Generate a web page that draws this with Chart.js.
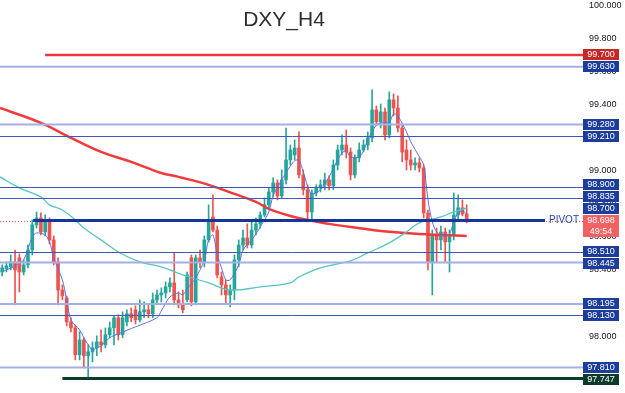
<!DOCTYPE html>
<html>
<head>
<meta charset="utf-8">
<script src="https://cdn.jsdelivr.net/npm/chart.js@4.4.1/dist/chart.umd.min.js"></script>
<style>
  html, body { margin: 0; padding: 0; background: #fff; }
  #wrap { width: 625px; height: 393px; position: relative; }
</style>
</head>
<body>
<div id="wrap"><canvas id="dxy"></canvas></div>
<script>
// DXY H4 candles
const opens = [98.388, 98.407, 98.419, 98.449, 98.473, 98.388, 98.431, 98.521, 98.673, 98.715,
  98.630, 98.691, 98.582, 98.449, 98.279, 98.231, 98.086, 98.050, 97.887, 97.977,
  97.881, 97.905, 97.929, 97.965, 97.947, 98.008, 98.050, 98.111, 98.008, 98.086,
  98.135, 98.159, 98.098, 98.147, 98.159, 98.135, 98.219, 98.249, 98.261, 98.298,
  98.322, 98.219, 98.189, 98.219, 98.473, 98.207, 98.473, 98.449, 98.582, 98.721,
  98.642, 98.358, 98.310, 98.249, 98.279, 98.461, 98.551, 98.594, 98.551, 98.642,
  98.679, 98.733, 98.794, 98.872, 98.927, 98.848, 98.945, 99.066, 99.096, 99.138,
  98.975, 98.885, 98.751, 98.866, 98.897, 98.915, 98.945, 98.909, 99.035, 99.126,
  99.156, 99.114, 98.975, 99.078, 99.126, 99.156, 99.199, 99.368, 99.296, 99.356,
  99.217, 99.429, 99.380, 99.259, 99.126, 99.066, 99.035, 99.048, 99.017, 98.745,
  98.449, 98.612, 98.582, 98.630, 98.570, 98.612, 98.733, 98.776, 98.739];
const highs = [98.431, 98.449, 98.491, 98.521, 98.497, 98.461, 98.551, 98.703, 98.751, 98.745,
  98.733, 98.715, 98.606, 98.473, 98.310, 98.243, 98.111, 98.068, 98.026, 97.990,
  97.947, 97.965, 98.002, 98.038, 98.050, 98.086, 98.123, 98.129, 98.147, 98.159,
  98.171, 98.183, 98.219, 98.207, 98.189, 98.261, 98.279, 98.292, 98.328, 98.352,
  98.503, 98.267, 98.279, 98.388, 98.491, 98.491, 98.521, 98.606, 98.794, 98.854,
  98.666, 98.388, 98.340, 98.310, 98.491, 98.582, 98.642, 98.679, 98.691, 98.715,
  98.751, 98.836, 98.897, 98.957, 98.945, 99.005, 99.259, 99.156, 99.187, 99.235,
  99.005, 98.915, 98.885, 98.915, 98.945, 98.987, 98.969, 99.066, 99.156, 99.217,
  99.247, 99.138, 99.096, 99.169, 99.187, 99.235, 99.489, 99.392, 99.404, 99.380,
  99.477, 99.465, 99.453, 99.284, 99.187, 99.126, 99.078, 99.078, 99.035, 98.763,
  98.642, 98.654, 98.666, 98.654, 98.642, 98.866, 98.854, 98.824, 98.794];
const lows = [98.364, 98.388, 98.400, 98.189, 98.267, 98.370, 98.413, 98.491, 98.654, 98.612,
  98.606, 98.558, 98.431, 98.189, 98.219, 98.062, 98.026, 97.856, 97.856, 97.808,
  97.747, 97.844, 97.881, 97.905, 97.929, 97.990, 97.947, 97.977, 97.990, 98.062,
  98.086, 98.074, 98.086, 98.111, 98.111, 98.111, 98.189, 98.207, 98.231, 98.267,
  98.189, 98.171, 98.141, 98.207, 98.183, 98.189, 98.413, 98.419, 98.570, 98.630,
  98.352, 98.249, 98.201, 98.177, 98.219, 98.419, 98.521, 98.533, 98.533, 98.612,
  98.654, 98.721, 98.763, 98.842, 98.824, 98.836, 98.921, 99.035, 99.066, 98.957,
  98.854, 98.691, 98.703, 98.848, 98.872, 98.885, 98.885, 98.885, 99.005, 99.096,
  99.078, 98.945, 98.957, 99.054, 99.114, 99.126, 99.175, 99.272, 99.259, 99.187,
  99.199, 99.332, 99.235, 99.054, 99.005, 99.005, 99.005, 98.993, 98.715, 98.400,
  98.249, 98.449, 98.521, 98.449, 98.388, 98.582, 98.703, 98.727, 98.685];
const closes = [98.413, 98.425, 98.449, 98.400, 98.388, 98.431, 98.521, 98.673, 98.715, 98.630,
  98.691, 98.582, 98.449, 98.279, 98.243, 98.086, 98.050, 97.887, 97.977, 97.881,
  97.905, 97.929, 97.965, 97.947, 98.008, 98.050, 98.111, 98.008, 98.111, 98.135,
  98.111, 98.098, 98.147, 98.159, 98.135, 98.219, 98.249, 98.261, 98.298, 98.322,
  98.219, 98.189, 98.159, 98.370, 98.207, 98.473, 98.449, 98.582, 98.691, 98.642,
  98.370, 98.310, 98.249, 98.279, 98.461, 98.551, 98.594, 98.551, 98.642, 98.679,
  98.733, 98.794, 98.872, 98.927, 98.848, 98.945, 99.066, 99.126, 99.138, 98.975,
  98.885, 98.751, 98.866, 98.897, 98.915, 98.945, 98.909, 99.035, 99.126, 99.156,
  99.114, 98.975, 99.078, 99.126, 99.156, 99.199, 99.368, 99.296, 99.356, 99.217,
  99.429, 99.380, 99.259, 99.114, 99.066, 99.035, 99.048, 99.017, 98.745, 98.449,
  98.612, 98.582, 98.630, 98.570, 98.612, 98.733, 98.776, 98.739, 98.698];

// moving averages, sampled at candle indexes
const fastIdx = [0, 3, 5, 7, 8, 10, 11, 12, 14, 15, 16, 18, 19, 20, 21, 22, 23, 25, 27, 31,
  36, 37, 39, 41, 42, 43, 45, 47, 48, 49, 50, 51, 52, 53, 55, 56, 58, 59, 61, 62,
  63, 65, 67, 68, 69, 70, 71, 72, 74, 76, 78, 79, 80, 81, 83, 84, 85, 87, 88, 90,
  91, 92, 94, 95, 97, 98, 99, 100, 101, 102, 103, 104, 105, 106, 107, 108];
const fastMa = [98.388, 98.425, 98.461, 98.600, 98.624, 98.612, 98.570, 98.473, 98.340, 98.219,
  98.098, 98.038, 97.990, 97.947, 97.917, 97.929, 97.941, 97.990, 98.014, 98.056,
  98.111, 98.153, 98.237, 98.261, 98.249, 98.286, 98.352, 98.461, 98.582, 98.612,
  98.491, 98.413, 98.340, 98.340, 98.431, 98.521, 98.582, 98.618, 98.703, 98.751,
  98.848, 98.945, 99.029, 99.060, 99.066, 98.993, 98.909, 98.860, 98.885, 98.963,
  99.066, 99.108, 99.120, 99.084, 99.084, 99.120, 99.187, 99.278, 99.290, 99.296,
  99.344, 99.332, 99.235, 99.175, 99.084, 99.035, 98.824, 98.691, 98.630, 98.612,
  98.606, 98.618, 98.691, 98.745, 98.757, 98.739];
const midIdx = [-0.5, 4, 9, 11, 14, 17, 19, 23, 27, 32, 37, 42, 48, 53, 60, 67, 69, 74, 81, 85,
  90, 94, 97, 102, 105, 108];
const midMa = [98.963, 98.897, 98.842, 98.794, 98.763, 98.703, 98.654, 98.582, 98.509, 98.449,
  98.419, 98.370, 98.322, 98.279, 98.298, 98.322, 98.358, 98.413, 98.455, 98.503,
  98.564, 98.630, 98.685, 98.721, 98.751, 98.776];
const slowIdx = [-0.5, 9, 16, 23, 30, 37, 41, 48, 54, 59, 62, 67, 72, 76, 81, 88, 97, 108];
const slowMa = [99.380, 99.290, 99.199, 99.114, 99.054, 98.987, 98.963, 98.915, 98.860, 98.812,
  98.770, 98.727, 98.697, 98.679, 98.660, 98.636, 98.618, 98.606];

// drawn levels
const levels = [99.700, 99.630, 99.280, 99.210, 98.900, 98.835, 98.700, 98.510, 98.445, 98.195, 98.130, 97.810, 97.747];
const levelKinds = ['red', 'light', 'light', 'dark', 'dark', 'dark', 'pivot', 'dark', 'light', 'light', 'dark', 'light', 'green'];
const levelFrom = [10, null, null, null, null, null, 7.2, null, null, null, null, null, 14]; // candle index where drawing starts
const pivotTo = 126.2;
const lastPrice = 98.698;
const countdown = '49:54';
const yTicks = [97.8, 98.0, 98.2, 98.4, 98.6, 98.8, 99.0, 99.2, 99.4, 99.6, 99.8, 100.0];
const yMin = 97.656, yMax = 100.033;
const slots = 136; // candles + empty space on the right

const UP = '#26a69a', DOWN = '#ef5350';
const FONT = '"Liberation Sans", Arial, sans-serif';
const levelStyle = {
  light: { color: '#a3b0e2', width: 2, box: '#1c3d9c' },
  dark: { color: '#4358b6', width: 1, box: '#1c3d9c' },
  pivot: { color: '#17359a', width: 3, box: '#1c3d9c' },
  red: { color: '#e8383d', width: 2.5, box: '#c62828' },
  green: { color: '#0c3b2c', width: 3, box: '#0c3b2c' }
};

const candleColor = c => closes[c.dataIndex] >= opens[c.dataIndex] ? UP : DOWN;
const pts = (xs, ys) => xs.map((x, i) => ({ x: x, y: ys[i] }));

const overlay = {
  id: 'overlay',
  afterDatasetsDraw(chart) {
    const { ctx, chartArea: a, scales: { x, y } } = chart;
    ctx.save();
    // last price dotted line
    const py = Math.round(y.getPixelForValue(lastPrice)) + 0.5;
    ctx.strokeStyle = DOWN;
    ctx.lineWidth = 1;
    ctx.setLineDash([1, 2]);
    ctx.beginPath(); ctx.moveTo(a.left, py); ctx.lineTo(a.right, py); ctx.stroke();
    ctx.setLineDash([]);

    levels.forEach((v, k) => {
      const st = levelStyle[levelKinds[k]];
      let yy = y.getPixelForValue(v);
      if (st.width % 2 === 1) yy = Math.round(yy) + 0.5;
      const x0 = levelFrom[k] == null ? a.left : x.getPixelForValue(levelFrom[k]);
      const x1 = levelKinds[k] === 'pivot' ? x.getPixelForValue(pivotTo) : a.right;
      ctx.strokeStyle = st.color;
      ctx.lineWidth = st.width;
      ctx.beginPath(); ctx.moveTo(x0, yy); ctx.lineTo(x1, yy); ctx.stroke();
      if (levelKinds[k] === 'pivot') {
        ctx.fillStyle = '#2a44a8';
        ctx.font = '10px ' + FONT;
        ctx.textAlign = 'left';
        ctx.textBaseline = 'middle';
        ctx.fillText('PIVOT', x1 + 4, yy);
      }
    });
    ctx.restore();
  },
  afterDraw(chart) {
    const { ctx, chartArea: a, scales: { y } } = chart;
    ctx.save();
    // price axis tick labels
    ctx.font = '9px ' + FONT;
    ctx.fillStyle = '#131722';
    ctx.textAlign = 'left';
    ctx.textBaseline = 'middle';
    yTicks.forEach(v => ctx.fillText(v.toFixed(3), a.right + 4, y.getPixelForValue(v)));

    const bx = a.right - 2, bw = 36, bh = 11;
    const curY = y.getPixelForValue(lastPrice);
    const curTop = curY - bh / 2, curBottom = curTop + 22;

    // place level labels, pushing away from the last price box
    const items = levels.map((v, k) => ({ v: v, k: k, y: y.getPixelForValue(v) }));
    const above = items.filter(o => o.y <= curY).sort((p, q) => q.y - p.y);
    const below = items.filter(o => o.y > curY).sort((p, q) => p.y - q.y);
    let lim = curTop;
    above.forEach(o => { o.cy = Math.min(o.y, lim - bh / 2 - 1); lim = o.cy - bh / 2; });
    lim = curBottom;
    below.forEach(o => { o.cy = Math.max(o.y, lim + bh / 2 + 1); lim = o.cy + bh / 2; });

    ctx.textAlign = 'center';
    items.forEach(o => {
      ctx.fillStyle = levelStyle[levelKinds[o.k]].box;
      ctx.fillRect(bx, Math.round(o.cy - bh / 2), bw, bh);
      ctx.fillStyle = '#fff';
      ctx.fillText(o.v.toFixed(3), bx + bw / 2, Math.round(o.cy - bh / 2) + bh / 2 + 0.5);
    });
    // last price box with countdown
    ctx.fillStyle = '#f26262';
    ctx.fillRect(bx, Math.round(curTop), bw, 22);
    ctx.fillStyle = '#fff';
    ctx.fillText(lastPrice.toFixed(3), bx + bw / 2, Math.round(curTop) + 6);
    ctx.fillText(countdown, bx + bw / 2, Math.round(curTop) + 16.5);

    // title
    ctx.fillStyle = '#2e2e2e';
    ctx.font = '21px ' + FONT;
    ctx.fillText('DXY_H4', 284, 20);
    ctx.restore();
  }
};

new Chart(document.getElementById('dxy'), {
  type: 'bar',
  data: {
    datasets: [
      { type: 'line', data: pts(fastIdx, fastMa), borderColor: '#5b74e0', borderWidth: 1,
        pointRadius: 0, tension: 0.3, order: 0 },
      { type: 'line', data: pts(midIdx, midMa), borderColor: '#56c4c6', borderWidth: 1.3,
        pointRadius: 0, tension: 0.4, order: 0 },
      { type: 'line', data: pts(slowIdx, slowMa), borderColor: '#f23a3a', borderWidth: 2.5,
        pointRadius: 0, tension: 0.4, order: 0 },
      { data: opens.map((o, i) => ({ x: i, y: [o, closes[i]] })), backgroundColor: candleColor,
        barThickness: 3, minBarLength: 1, grouped: false, order: 1 },
      { data: lows.map((l, i) => ({ x: i, y: [l, highs[i]] })), backgroundColor: candleColor,
        barThickness: 1, grouped: false, order: 2 }
    ]
  },
  options: {
    responsive: true,
    maintainAspectRatio: false,
    animation: false,
    layout: { padding: 0 },
    plugins: { legend: { display: false }, tooltip: { enabled: false }, title: { display: false } },
    scales: {
      x: { type: 'linear', min: -0.5, max: slots - 0.5, offset: false, display: false },
      y: {
        position: 'right', min: yMin, max: yMax, beginAtZero: false,
        grid: { display: false, drawTicks: false }, border: { display: false },
        afterBuildTicks: s => { s.ticks = yTicks.map(v => ({ value: v })); },
        afterFit: s => { s.width = 40; },
        ticks: { display: false }
      }
    }
  },
  plugins: [overlay]
});
</script>
</body>
</html>
